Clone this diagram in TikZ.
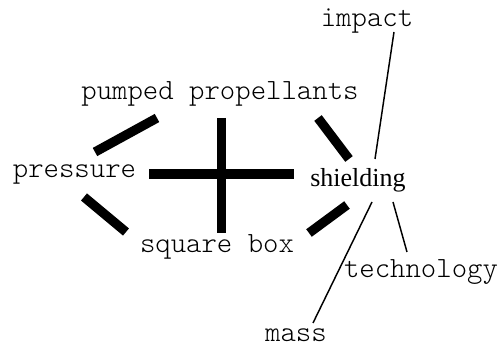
\documentclass[tikz,border=0pt]{standalone}
\usepackage{fontspec}
\setmainfont{Liberation Serif}
\setmonofont{Latin Modern Mono Light}
\usetikzlibrary{calc}

\begin{document}
\begin{tikzpicture}[x=0.75pt,y=-0.75pt,
    term/.style={font=\ttfamily\fontsize{22}{26}\selectfont,inner sep=0pt,anchor=base},
    hub/.style={font=\fontsize{19.5}{23}\selectfont,inner sep=0pt,anchor=base},
    heavylink/.style={line width=7pt},
    lightlink/.style={line width=1.1pt}]
    \useasboundingbox (0,0) rectangle (501,353);
    % terms
    \node[term] (pressure) at (74.5,178) {pressure};
    \node[term] (pumped) at (220,100) {pumped propellants};
    \node[term] (square) at (217,253) {square box};
    \node[hub] (shield) at (358,187) {shielding};
    \node[term] (impact) at (367,27) {impact};
    \node[term] (tech) at (421,278) {technology};
    \node[term] (mass) at (296,342) {mass};
    % strong links
    \draw[heavylink] ([shift={(20.5,-26)}]pressure.base) -- ([shift={(-63,18)}]pumped.base);
    \draw[heavylink] ([shift={(9.5,19)}]pressure.base) -- ([shift={(-91,-21)}]square.base);
    \draw[heavylink] ([shift={(74.5,-4)}]pressure.base) -- ([shift={(-64,-13)}]shield.base);
    \draw[heavylink] ([shift={(1.5,18)}]pumped.base) -- ([shift={(4.5,-20)}]square.base);
    \draw[heavylink] ([shift={(98,18)}]pumped.base) -- ([shift={(-9,-28)}]shield.base);
    \draw[heavylink] ([shift={(92,-20)}]square.base) -- ([shift={(-11,18)}]shield.base);
    % weak links
    \draw[lightlink] ([shift={(17,-28)}]shield.base) -- ([shift={(27,5)}]impact.base);
    \draw[lightlink] ([shift={(35,15)}]shield.base) -- ([shift={(-14,-26)}]tech.base);
    \draw[lightlink] ([shift={(14,15)}]shield.base) -- ([shift={(17,-19)}]mass.base);
\end{tikzpicture}
\end{document}
